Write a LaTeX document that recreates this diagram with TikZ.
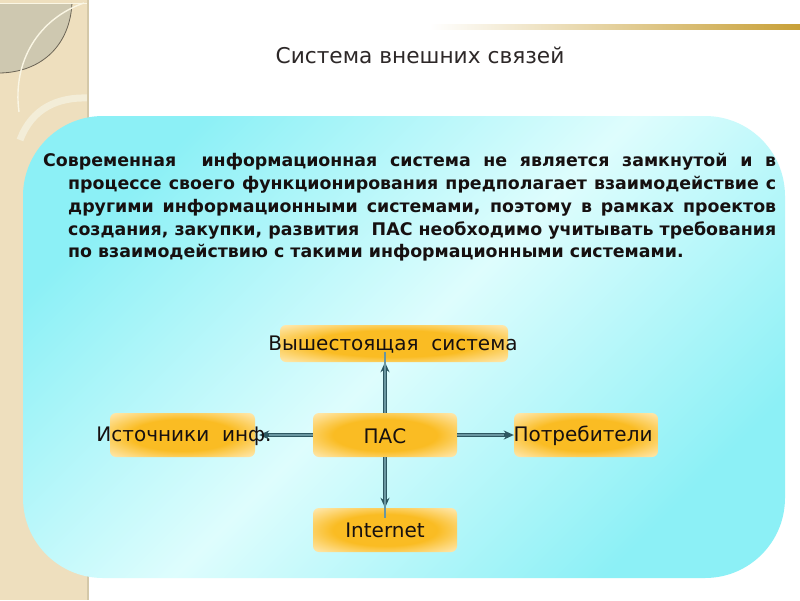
\documentclass[tikz,border=0pt]{standalone}
\usepackage{fontspec}
\setmainfont{DejaVu Sans}
\newfontfamily\titlefont{DejaVu Sans}
\usetikzlibrary{arrows.meta}
\definecolor{beige}{RGB}{238,223,190}
\definecolor{beigedark}{RGB}{212,200,168}
\definecolor{greylens}{RGB}{206,200,176}
\definecolor{cream}{RGB}{250,246,228}
\definecolor{gold}{RGB}{200,160,55}
\definecolor{cyA}{RGB}{140,240,246}
\definecolor{cyB}{RGB}{222,253,253}
\definecolor{orA}{RGB}{250,188,35}
\definecolor{orB}{RGB}{253,215,120}
\definecolor{orC}{RGB}{255,240,200}
\definecolor{arrowdark}{RGB}{45,88,98}
\definecolor{arrowlight}{RGB}{105,150,160}
\definecolor{ink}{RGB}{22,16,16}
\pgfdeclareradialshading{orglow}{\pgfpoint{0bp}{0bp}}{color(0bp)=(orA); color(18bp)=(orA); color(28bp)=(orB); color(38bp)=(orC); color(50bp)=(orC)}
\tikzset{
  box/.style={rectangle, rounded corners=6pt, shading=orglow, draw=none, minimum width=144pt, minimum height=44pt, inner sep=0pt},
  lbl/.style={font=\fontsize{20}{22}\selectfont, text=ink, inner sep=0pt},
  para/.style={font=\bfseries\fontsize{17.4}{20}\selectfont, text=ink, inner sep=0pt, anchor=base west},
  link/.style={draw=arrowdark, line width=3.4pt, -{Stealth[length=10pt,width=9pt]}},
  linkin/.style={draw=arrowlight, line width=1.2pt}
}
\begin{document}
\begin{tikzpicture}[x=1pt,y=-1pt]
\useasboundingbox (0,0) rectangle (800,600);
\fill[white] (0,0) rectangle (800,600);
% left decorative stripe
\fill[beige] (0,0) rectangle (88,600);
\fill[greylens] (0,3) -- (72,3) .. controls (70,45) and (42,72) .. (0,73) -- cycle;
\draw[black!55!beige, line width=0.8pt] (72,3) .. controls (70,45) and (42,72) .. (0,73);
\draw[cream, line width=0.8pt] (0,3) -- (88,3);
\draw[cream, line width=1.4pt] (84,3) .. controls (40,18) and (12,60) .. (19,112);
\draw[cream!80!beigedark, line width=7pt] (20,140) .. controls (32,108) and (58,97) .. (88,98);
\draw[beigedark, line width=1.5pt] (88,0) -- (88,600);
% golden bar
\shade[left color=white, right color=gold] (430,24) rectangle (800,29);
% title
\node[font=\titlefont\fontsize{21.7}{24}\selectfont, text=ink!90!white] (title) at (420,55) {Система внешних связей};
% cyan panel
\shade[rounded corners=80pt, top color=cyA, bottom color=cyA, middle color=cyB, shading angle=45]
  (23,116) rectangle (785,578);
% paragraph
\node[para] (l1) at (43,166) {\makebox[733pt][s]{Современная\ \ информационная система не является замкнутой и в}};
\node[para] (l2) at (68,189) {\makebox[708pt][s]{процессе своего функционирования предполагает взаимодействие с}};
\node[para] (l3) at (68,212) {\makebox[708pt][s]{другими информационными системами, поэтому в рамках проектов}};
\node[para] (l4) at (68,235) {\makebox[708pt][s]{создания, закупки, развития\ \ ПАС необходимо учитывать требования}};
\node[para] (l5) at (68,257) {по взаимодействию с такими информационными системами.};
% boxes
\node[box, minimum width=228pt, minimum height=37pt] (top) at (394,343.5) {};
\node[box, minimum width=145pt] (left) at (182.5,435) {};
\node[box] (pac) at (385,435) {};
\node[box] (right) at (586,435) {};
\node[box] (inet) at (385,530) {};
% arrows
\draw[link] (pac.north) -- (pac.north |- top.south);
\draw[link] (pac.west) -- ([xshift=4pt]left.east);
\draw[link] (pac.east) -- (right.west);
\draw[link] (pac.south) -- (inet.north);
\draw[linkin] (pac.north) -- ([yshift=10pt]pac.north |- top.south);
\draw[linkin] (pac.west) -- ([xshift=14pt]left.east);
\draw[linkin] (pac.east) -- ([xshift=-10pt]right.west);
\draw[linkin] (pac.south) -- ([yshift=-10pt]inet.north);
% labels
\node[lbl] (ttop) at (393,345) {Вышестоящая\ \ система};
\node[lbl] (tleft) at (184,436) {Источники\ \ инф.};
\node[lbl] (tpac) at (385,436) {ПАС};
\node[lbl] (tright) at (583,436) {Потребители};
\node[lbl] (tinet) at (385,530) {Internet};
\end{tikzpicture}
\end{document}
